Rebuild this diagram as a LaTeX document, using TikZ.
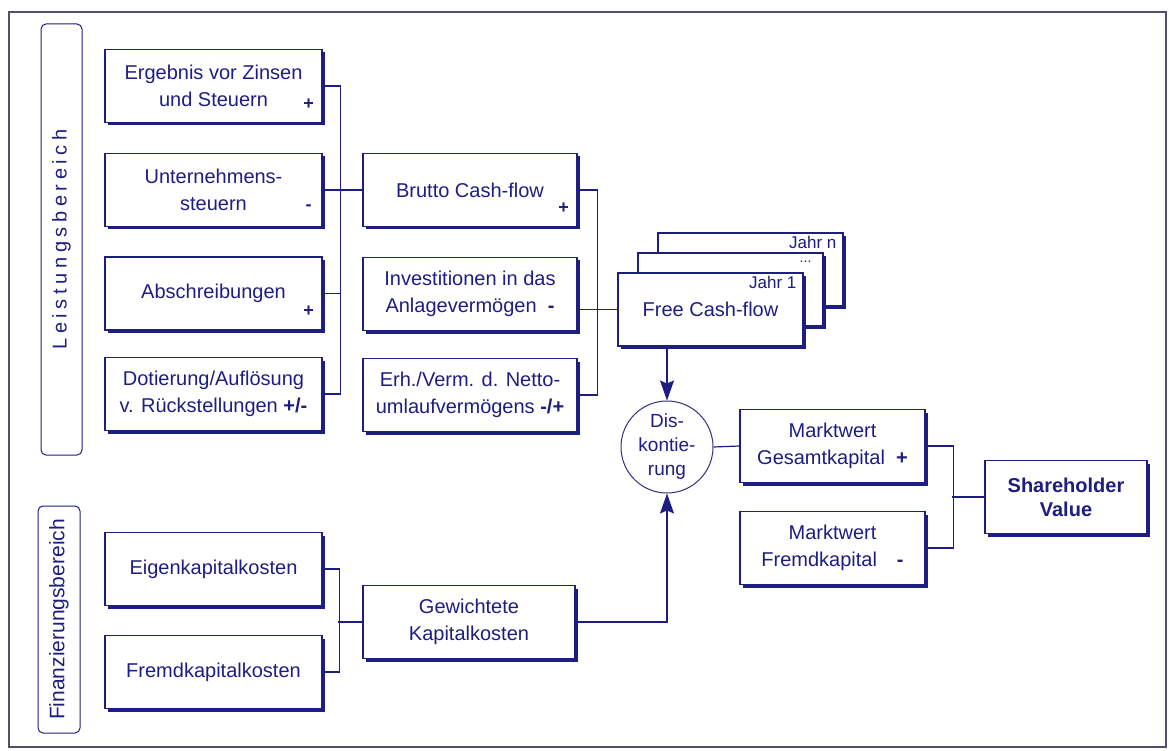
\documentclass[tikz,border=0pt]{standalone}
\usepackage{fontspec}
\setmainfont{Liberation Sans}
\usetikzlibrary{arrows.meta,shadows}
\definecolor{navy}{RGB}{30,30,130}
\definecolor{framegray}{RGB}{80,80,110}

\begin{document}
\begin{tikzpicture}[x=1pt,y=-1pt,
    box/.style={draw=navy,line width=1.2pt,fill=white,text=navy,align=center,inner sep=2pt,
      font=\fontsize{20}{27}\selectfont,minimum height=73pt,
      drop shadow={shadow xshift=2.5pt,shadow yshift=-3pt,fill=navy,opacity=1}},
    boxL/.style={minimum width=217pt},
    boxM/.style={minimum width=214pt},
    boxF/.style={minimum width=185pt},
    sign/.style={anchor=center,text=navy,inner sep=0pt,font=\bfseries\fontsize{18}{18}\selectfont,xshift=-14pt,yshift=19pt},
    jahr/.style={anchor=north east,text=navy,inner sep=0pt,text height=12pt,text depth=0pt,
      font=\fontsize{17}{17}\selectfont,xshift=-7pt,yshift=-4pt},
    dots/.style={anchor=north east,text=navy,inner sep=0pt,text height=3pt,text depth=0pt,
      font=\fontsize{14}{14}\selectfont,xshift=-12pt,yshift=-7pt},
    area/.style={draw=navy,line width=1pt,rounded corners=5pt,text=navy,inner sep=0pt,rotate=90},
    disk/.style={circle,draw=navy!80!gray,line width=1pt,fill=white,text=navy,align=center,inner sep=0pt,
      minimum size=92pt,font=\fontsize{19}{24}\selectfont},
    conn/.style={draw=navy,line width=1.2pt},
    arr/.style={-{Stealth[length=20pt,width=14pt,inset=3pt]}}]
      \useasboundingbox (0,0) rectangle (1169,751);
      \fill[white] (0,0) rectangle (1169,751);
      \draw[framegray,line width=1.5pt] (9,12) rectangle (1166,747);

      \node[area,minimum width=431pt,minimum height=41pt,
        font=\fontsize{20}{20}\selectfont\addfontfeature{LetterSpace=23}] (leist) at (61.5,239.5) {Leistungsbereich};
      \node[area,minimum width=227pt,minimum height=42pt,
        font=\fontsize{21}{21}\selectfont] (finanz) at (59,619.5) {Finanzierungsbereich};

      \node[box,boxL,label={[sign]south east:+}] (ergebnis) at (213.5,86) {Ergebnis vor Zinsen\\und Steuern};
      \node[box,boxL,label={[sign]south east:-}] (steuern) at (213.5,190) {Unternehmens-\\steuern};
      \node[box,boxL,label={[sign]south east:+}] (abschr) at (213.5,293.5) {Abschreibungen};
      \node[box,boxL] (rueckst) at (213.5,394) {Dotierung/Auflösung\\v. Rückstellungen {\bfseries +/-}};

      \node[box,boxM,label={[sign]south east:+}] (brutto) at (470,190) {Brutto Cash-flow};
      \node[box,boxM] (invest) at (470,294) {Investitionen in das\\Anlagevermögen\ \ {\bfseries -}};
      \node[box,boxM] (erh) at (470,395) {Erh./Verm. d. Netto-\\umlaufvermögens {\bfseries -/+}};

      \node[box,boxF,label={[jahr]north east:Jahr n}] (fcfn) at (750.5,269.5) {};
      \node[box,boxF,label={[dots]north east:...}] (fcfm) at (730.5,289.5) {};
      \node[box,boxF,label={[jahr]north east:Jahr 1}] (fcf) at (710.5,309.5) {\raisebox{-6pt}{Free Cash-flow}};

      \node[disk] (disk) at (667,447) {Dis-\\kontie-\\rung};

      \node[box,boxL] (eigen) at (213.5,569) {Eigenkapitalkosten};
      \node[box,boxL] (fremd) at (213.5,672) {Fremdkapitalkosten};
      \node[box,minimum width=212pt] (wacc) at (469,622) {Gewichtete\\Kapitalkosten};

      \node[box,boxF] (mgk) at (832.5,446) {Marktwert\\Gesamtkapital\ \ {\bfseries +}};
      \node[box,boxF] (mfk) at (832.5,548) {Marktwert\\Fremdkapital\hspace{20pt}{\bfseries -}};
      \node[box,minimum width=162pt,font=\bfseries\fontsize{20}{24}\selectfont] (sv) at (1066,497) {Shareholder\\Value};

      \draw[conn] (ergebnis.east) -- ++(18,0) |- (rueckst.east);
      \draw[conn] (steuern.east) -- (brutto.west);
      \draw[conn] (abschr.east) -- ++(18,0);

      \draw[conn] (brutto.east) -- ++(20,0) |- (erh.east);
      \draw[conn] (invest.east |- fcf.west) -- (fcf.west);

      \draw[conn,arr] (fcf.south -| disk) -- (disk.north);
      \draw[conn] (eigen.east) -- ++(17,0) |- (fremd.east);
      \draw[conn] (wacc.west) -- ++(-24,0);
      \draw[conn,arr] (wacc.east) -| (disk.south);

      \draw[conn] (disk.east) -- (mgk.west);
      \draw[conn] (mgk.east) -- ++(28,0) |- (mfk.east);
      \draw[conn] (sv.west) -- ++(-32,0);
    \end{tikzpicture}
\end{document}
